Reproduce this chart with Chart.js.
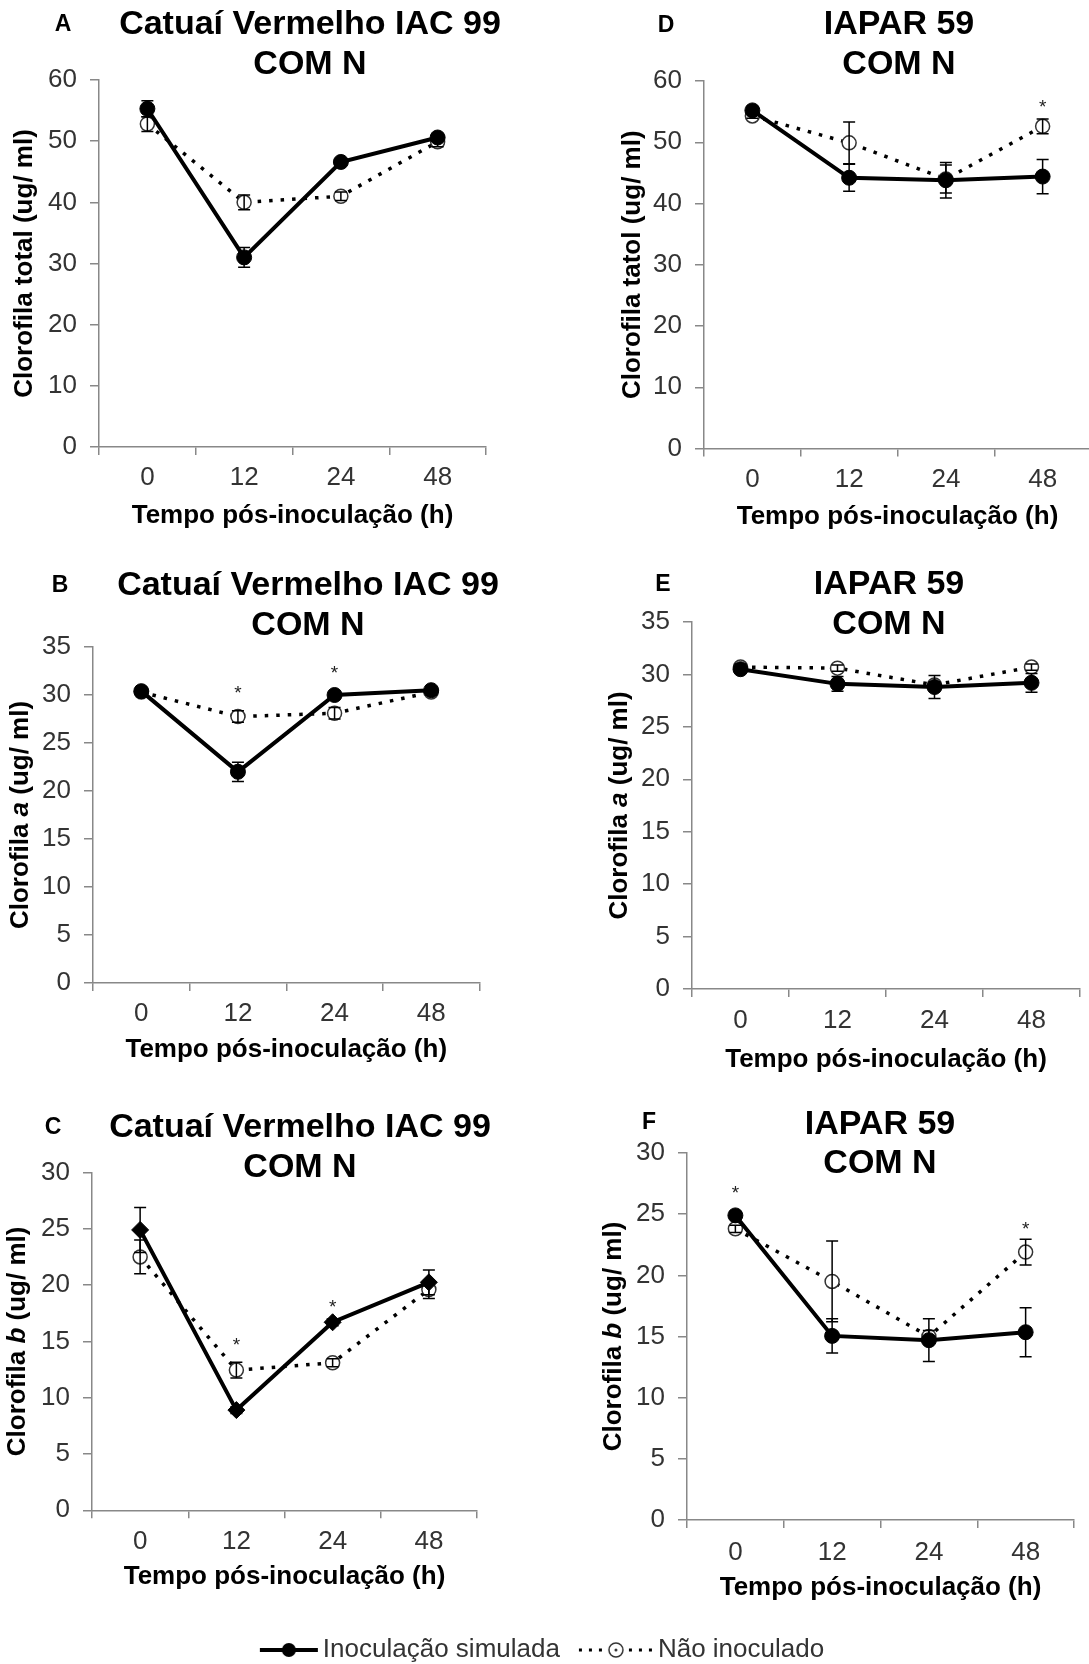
<!DOCTYPE html>
<html lang="pt">
<head>
<meta charset="utf-8">
<title>Clorofila - Catuaí Vermelho IAC 99 e IAPAR 59</title>
<script src="https://cdn.jsdelivr.net/npm/chart.js@4.4.1/dist/chart.umd.min.js"></script>
<style>
  html, body { margin: 0; padding: 0; background: #fff; overflow: hidden; }
  #figura { position: relative; width: 1089px; height: 1664px; overflow: hidden; background: #fff; }
  #figura canvas { position: absolute; }
</style>
</head>
<body>
<div id="figura">
  <canvas id="painelA"></canvas>
  <canvas id="painelD"></canvas>
  <canvas id="painelB"></canvas>
  <canvas id="painelE"></canvas>
  <canvas id="painelC"></canvas>
  <canvas id="painelF"></canvas>
  <canvas id="legenda"></canvas>
</div>
<script>
const FONTE = '"Liberation Sans", Arial, sans-serif';

// tempo pós-inoculação (h)
const tempos = ['0', '12', '24', '48'];

// A - Catuaí, clorofila total
const totalCatuaiSim = [55.3, 31.0, 46.6, 50.6];
const totalCatuaiSimErro = [1.3, 1.6, 0.5, 0.6];
const totalCatuaiNao = [52.8, 40.0, 41.0, 49.9];
const totalCatuaiNaoErro = [1.2, 1.2, 0.7, 0.8];
const totalCatuaiAster = [null, null, null, null];

// D - IAPAR, clorofila total
const totalIaparSim = [55.2, 44.2, 43.8, 44.4];
const totalIaparSimErro = [0.5, 2.2, 2.9, 2.8];
const totalIaparNao = [54.3, 49.9, 44.0, 52.6];
const totalIaparNaoErro = [0.4, 3.4, 2.3, 1.2];
const totalIaparAster = [null, null, null, 56.5];

// B - Catuaí, clorofila a
const aCatuaiSim = [30.4, 22.0, 30.0, 30.5];
const aCatuaiSimErro = [0.3, 1.0, 0.3, 0.3];
const aCatuaiNao = [30.3, 27.75, 28.1, 30.3];
const aCatuaiNaoErro = [0.3, 0.6, 0.6, 0.3];
const aCatuaiAster = [null, 30.7, 32.8, null];

// E - IAPAR, clorofila a
const aIaparSim = [30.5, 29.1, 28.8, 29.2];
const aIaparSimErro = [0.3, 0.7, 1.1, 0.9];
const aIaparNao = [30.7, 30.6, 29.0, 30.7];
const aIaparNaoErro = [0.3, 0.3, 0.3, 0.3];
const aIaparAster = [null, null, null, null];

// C - Catuaí, clorofila b
const bCatuaiSim = [24.9, 8.9, 16.7, 20.25];
const bCatuaiSimErro = [2.0, 0.3, 0.3, 1.1];
const bCatuaiNao = [22.5, 12.45, 13.1, 19.6];
const bCatuaiNaoErro = [1.5, 0.7, 0.35, 0.8];
const bCatuaiAster = [null, 15.1, 18.5, null];

// F - IAPAR, clorofila b
const bIaparSim = [24.9, 15.05, 14.7, 15.35];
const bIaparSimErro = [0.3, 1.4, 1.75, 2.0];
const bIaparNao = [23.8, 19.5, 15.0, 21.9];
const bIaparNaoErro = [0.3, 3.3, 0.5, 1.05];
const bIaparAster = [27.1, null, null, 24.2];

const TAM_TICK = 26;
const TAM_EIXO = 26;
const TAM_TITULO = 34;

// barras de erro e asteriscos, desenhados com as escalas do gráfico
const barrasErro = {
  id: 'barrasErro',
  afterDatasetsDraw(chart) {
    const ctx = chart.ctx;
    const ys = chart.scales.y, xs = chart.scales.x;
    ctx.save();
    ctx.strokeStyle = '#000';
    ctx.lineWidth = 1.5;
    ctx.setLineDash([]);
    chart.data.datasets.forEach((ds, i) => {
      if (!ds.erros) return;
      chart.getDatasetMeta(i).data.forEach((pt, j) => {
        const e = ds.erros[j];
        if (!e) return;
        const v = ds.data[j];
        const t = ys.getPixelForValue(v + e), b = ys.getPixelForValue(v - e);
        ctx.beginPath();
        ctx.moveTo(pt.x, t); ctx.lineTo(pt.x, b);
        ctx.moveTo(pt.x - 6, t); ctx.lineTo(pt.x + 6, t);
        ctx.moveTo(pt.x - 6, b); ctx.lineTo(pt.x + 6, b);
        ctx.stroke();
      });
    });
    const aster = chart.config.options.asteriscos || [];
    ctx.fillStyle = '#222';
    ctx.font = '19px ' + FONTE;
    ctx.textAlign = 'center';
    ctx.textBaseline = 'alphabetic';
    aster.forEach((v, j) => {
      if (v === null) return;
      ctx.fillText('*', xs.getPixelForValue(j), ys.getPixelForValue(v) + 0.57 * 19);
    });
    ctx.restore();
  }
};

// letra, título do painel e título do eixo y (com itálico)
function textosDoPainel(p) {
  return {
    id: 'textos',
    afterDraw(chart) {
      const ctx = chart.ctx, b = p.box, ca = chart.chartArea;
      ctx.save();
      ctx.fillStyle = '#000';
      ctx.textAlign = 'center';
      ctx.textBaseline = 'middle';
      ctx.font = 'bold 23px ' + FONTE;
      ctx.fillText(p.letra, p.letraPos[0] - b.left, p.letraPos[1] - b.top);
      ctx.font = 'bold ' + TAM_TITULO + 'px ' + FONTE;
      p.titulo.forEach((t, i) => ctx.fillText(t, p.tituloX - b.left, p.tituloY[i] - b.top));

      const fonte = s => (s[1] ? 'italic ' : '') + 'bold ' + TAM_EIXO + 'px ' + FONTE;
      let total = 0;
      const larg = p.yTitulo.map(s => { ctx.font = fonte(s); const w = ctx.measureText(s[0]).width; total += w; return w; });
      ctx.translate(p.yTituloX - b.left, (ca.top + ca.bottom) / 2);
      ctx.rotate(-Math.PI / 2);
      ctx.textAlign = 'left';
      let x = -total / 2;
      p.yTitulo.forEach((s, i) => { ctx.font = fonte(s); ctx.fillText(s[0], x, 0); x += larg[i]; });
      ctx.restore();
    }
  };
}

function painel(p) {
  const b = p.box, a = p.area;
  const canvas = document.getElementById(p.id);
  canvas.width = b.width;
  canvas.height = b.height;
  canvas.style.left = b.left + 'px';
  canvas.style.top = b.top + 'px';
  const lhTick = TAM_TICK * 1.2, lhEixo = TAM_EIXO * 1.2;
  return new Chart(canvas, {
    type: 'line',
    data: {
      labels: tempos,
      datasets: [
        {
          label: 'Inoculação simulada', data: p.sim, erros: p.simErro,
          borderColor: '#000', borderWidth: 4, tension: 0,
          pointStyle: p.losango ? 'rectRot' : 'circle', pointRadius: p.losango ? 8.5 : 7.5,
          pointBackgroundColor: '#000', pointBorderColor: '#000', pointBorderWidth: 1
        },
        {
          label: 'Não inoculado', data: p.nao, erros: p.naoErro,
          borderColor: '#000', borderWidth: 3.5, borderDash: [3.5, 8], tension: 0,
          pointStyle: 'circle', pointRadius: 7,
          pointBackgroundColor: '#fff', pointBorderColor: '#333', pointBorderWidth: 1.5
        }
      ]
    },
    options: {
      responsive: false,
      animation: false,
      devicePixelRatio: 1,
      asteriscos: p.aster,
      layout: { padding: { left: 0, bottom: 0, top: a.top - b.top, right: b.left + b.width - a.right } },
      plugins: { legend: { display: false }, tooltip: { enabled: false } },
      scales: {
        x: {
          offset: true,
          grid: { offset: true, drawOnChartArea: false, drawTicks: true, tickLength: 8, color: '#888', lineWidth: 1.5 },
          border: { color: '#888', width: 1.5 },
          ticks: { color: '#333', font: { family: FONTE, size: TAM_TICK }, padding: p.xLabelY - a.bottom - 8 - lhTick / 2, maxRotation: 0 },
          title: {
            display: true, text: 'Tempo pós-inoculação (h)', color: '#000',
            font: { family: FONTE, size: TAM_EIXO, weight: 'bold' },
            padding: { top: 0, bottom: b.top + b.height - p.xTituloY - lhEixo / 2 }
          },
          afterFit: s => { s.height = b.top + b.height - a.bottom; }
        },
        y: {
          min: 0, max: p.yMax,
          grid: { drawOnChartArea: false, drawTicks: true, tickLength: 9, color: '#888', lineWidth: 1.5 },
          border: { color: '#888', width: 1.5 },
          ticks: { stepSize: p.yPasso, color: '#333', font: { family: FONTE, size: TAM_TICK }, padding: 13 },
          afterFit: s => { s.width = a.left - b.left; }
        }
      }
    },
    plugins: [barrasErro, textosDoPainel(p)]
  });
}

const eixoTotal = [['Clorofila total (ug/ ml)', false]];
const eixoTatol = [['Clorofila tatol (ug/ ml)', false]];
const eixoA = [['Clorofila ', false], ['a', true], [' (ug/ ml)', false]];
const eixoB = [['Clorofila ', false], ['b', true], [' (ug/ ml)', false]];
const tituloCatuai = ['Catuaí Vermelho IAC 99', 'COM N'];
const tituloIapar = ['IAPAR 59', 'COM N'];

painel({
  id: 'painelA', box: { left: 0, top: 0, width: 540, height: 540 },
  area: { left: 99, right: 486, top: 80, bottom: 447 }, yMax: 60, yPasso: 10,
  letra: 'A', letraPos: [63, 25], titulo: tituloCatuai, tituloX: 310, tituloY: [25, 65],
  yTitulo: eixoTotal, yTituloX: 25, xLabelY: 478, xTituloY: 516,
  sim: totalCatuaiSim, simErro: totalCatuaiSimErro, nao: totalCatuaiNao, naoErro: totalCatuaiNaoErro, aster: totalCatuaiAster
});
painel({
  id: 'painelD', box: { left: 560, top: 0, width: 540, height: 540 },
  area: { left: 704, right: 1091, top: 81, bottom: 448.5 }, yMax: 60, yPasso: 10,
  letra: 'D', letraPos: [666, 26], titulo: tituloIapar, tituloX: 899, tituloY: [25, 65],
  yTitulo: eixoTatol, yTituloX: 633, xLabelY: 479.5, xTituloY: 517,
  sim: totalIaparSim, simErro: totalIaparSimErro, nao: totalIaparNao, naoErro: totalIaparNaoErro, aster: totalIaparAster
});
painel({
  id: 'painelB', box: { left: 0, top: 540, width: 540, height: 540 },
  area: { left: 93, right: 479.5, top: 647, bottom: 983 }, yMax: 35, yPasso: 5,
  letra: 'B', letraPos: [60, 586], titulo: tituloCatuai, tituloX: 308, tituloY: [586, 626],
  yTitulo: eixoA, yTituloX: 21, xLabelY: 1014, xTituloY: 1050,
  sim: aCatuaiSim, simErro: aCatuaiSimErro, nao: aCatuaiNao, naoErro: aCatuaiNaoErro, aster: aCatuaiAster
});
painel({
  id: 'painelE', box: { left: 560, top: 540, width: 540, height: 540 },
  area: { left: 692, right: 1080, top: 622, bottom: 989 }, yMax: 35, yPasso: 5,
  letra: 'E', letraPos: [663, 585], titulo: tituloIapar, tituloX: 889, tituloY: [585, 625],
  yTitulo: eixoA, yTituloX: 620, xLabelY: 1021, xTituloY: 1060,
  sim: aIaparSim, simErro: aIaparSimErro, nao: aIaparNao, naoErro: aIaparNaoErro, aster: aIaparAster
});
painel({
  id: 'painelC', box: { left: 0, top: 1080, width: 540, height: 530 },
  area: { left: 92, right: 477, top: 1172.5, bottom: 1510.3 }, yMax: 30, yPasso: 5, losango: true,
  letra: 'C', letraPos: [53, 1128], titulo: tituloCatuai, tituloX: 300, tituloY: [1128, 1168],
  yTitulo: eixoB, yTituloX: 18, xLabelY: 1542, xTituloY: 1577,
  sim: bCatuaiSim, simErro: bCatuaiSimErro, nao: bCatuaiNao, naoErro: bCatuaiNaoErro, aster: bCatuaiAster
});
painel({
  id: 'painelF', box: { left: 560, top: 1080, width: 540, height: 530 },
  area: { left: 687, right: 1074, top: 1153, bottom: 1520 }, yMax: 30, yPasso: 5,
  letra: 'F', letraPos: [649, 1123], titulo: tituloIapar, tituloX: 880, tituloY: [1125, 1164],
  yTitulo: eixoB, yTituloX: 614, xLabelY: 1553, xTituloY: 1588,
  sim: bIaparSim, simErro: bIaparSimErro, nao: bIaparNao, naoErro: bIaparNaoErro, aster: bIaparAster
});

// legenda comum: amostras de linha + marcador
// a imagem (140 px) fica centrada na caixa de 58 px: coordenada r da caixa -> x = r + 41
function amostra(tipo) {
  const c = document.createElement('canvas');
  c.width = 140; c.height = 20;
  const g = c.getContext('2d');
  g.strokeStyle = '#000';
  if (tipo === 'sim') {
    g.lineWidth = 4;
    g.beginPath(); g.moveTo(49, 10); g.lineTo(107, 10); g.stroke();
    g.fillStyle = '#000';
    g.beginPath(); g.arc(78, 10, 7, 0, 2 * Math.PI); g.fill();
  } else {
    g.lineWidth = 3;
    g.setLineDash([3, 7]);
    g.beginPath(); g.moveTo(33, 10); g.lineTo(108, 10); g.stroke();
    g.setLineDash([]);
    g.fillStyle = '#fff';
    g.beginPath(); g.arc(70, 10, 7, 0, 2 * Math.PI); g.fill();
    g.lineWidth = 1.5; g.strokeStyle = '#333'; g.stroke();
    g.fillStyle = '#333';
    g.beginPath(); g.arc(70, 10, 1.5, 0, 2 * Math.PI); g.fill();
  }
  return c;
}

// canvas da legenda passa um pouco do fundo da página (cortado pelo contêiner)
const legCanvas = document.getElementById('legenda');
legCanvas.width = 1089; legCanvas.height = 140;
legCanvas.style.left = '0px'; legCanvas.style.top = '1533px';
const seriesNomes = ['Inoculação simulada', 'Não inoculado'];
const amostras = [amostra('sim'), amostra('nao')];
new Chart(legCanvas, {
  type: 'line',
  data: { labels: [], datasets: seriesNomes.map(n => ({ label: n, data: [] })) },
  options: {
    responsive: false, animation: false, devicePixelRatio: 1,
    layout: { padding: { right: 13 } },
    scales: { x: { display: false }, y: { display: false } },
    plugins: {
      tooltip: { enabled: false },
      legend: {
        position: 'bottom',
        maxHeight: 80,
        labels: {
          usePointStyle: true, pointStyleWidth: 58, padding: 27,
          color: '#333', font: { family: FONTE, size: 26 },
          generateLabels: () => seriesNomes.map((n, i) => ({
            text: n, pointStyle: amostras[i], datasetIndex: i, hidden: false,
            fillStyle: '#000', strokeStyle: '#000', lineWidth: 0, fontColor: '#333'
          }))
        }
      }
    }
  }
});
</script>
</body>
</html>
